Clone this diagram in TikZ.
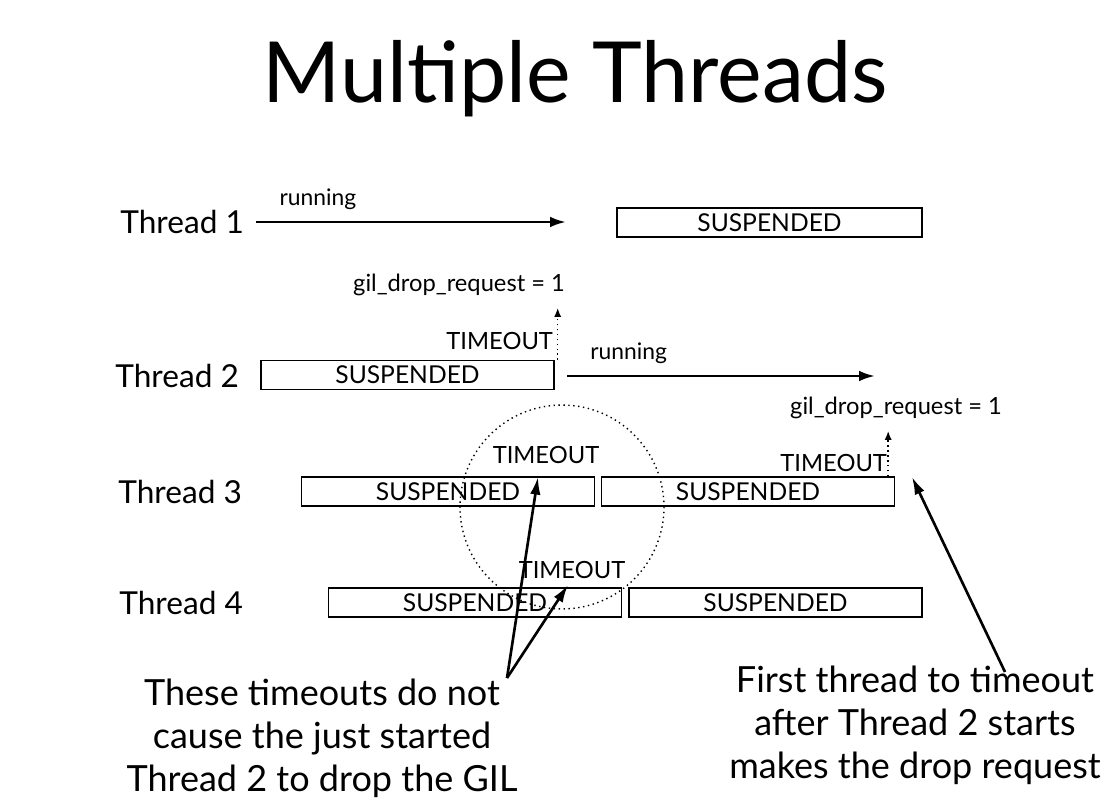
\documentclass[tikz,border=0pt]{standalone}
\usepackage{fontspec}
\setmainfont{Lato}
\usetikzlibrary{arrows.meta,positioning}
\tikzset{
  susp/.style={draw, line width=0.8pt, minimum width=5.86cm, minimum height=0.58cm,
    inner sep=0pt, font=\fontsize{14}{14}\selectfont},
  thr/.style={font=\fontsize{18}{18}\selectfont, anchor=east, inner sep=1pt},
  run/.style={font=\fontsize{13}{13}\selectfont},
  small/.style={font=\fontsize{13.5}{13.5}\selectfont, inner sep=1pt},
  note/.style={font=\fontsize{20.5}{24.5}\selectfont, align=center},
  flow/.style={line width=1.5pt, -{Latex[length=9pt,width=6pt]}},
  req/.style={dotted, line width=0.8pt, -{Latex[length=5pt,width=4pt]}},
  point/.style={line width=1.5pt, -{Latex[length=10pt,width=6pt]}}
}
\begin{document}
\begin{tikzpicture}[x=0.02cm, y=-0.02cm]
\useasboundingbox (0,0) rectangle (1106,810);
\node[font=\fontsize{48}{48}\selectfont] (title) at (575,79) {Multiple Threads};

% thread labels
\node[thr] (th1) at (246,222) {Thread 1};
\node[thr] (th2) at (241,376) {Thread 2};
\node[thr] (th3) at (244,492) {Thread 3};
\node[thr] (th4) at (245,603) {Thread 4};

% thread 1
\coordinate (r1) at (566,222);
\draw[flow] (th1.east) ++(10,0) coordinate (r1s) -- (r1) node[run, pos=0.2, above=3pt] (run1) {running};
\node[susp, minimum width=6.1cm] (s1) at (769.5,222.5) {SUSPENDED};
\node[small, anchor=east] (gil1) at (567,285) {gil\_drop\_request = 1};

% thread 2
\node[susp] (s2) at (407.5,375) {SUSPENDED};
\node[small, anchor=south east] (to2) at (555,352) {TIMEOUT};
\draw[req] (s2.north east) ++(3,0) coordinate (q2) -- ([yshift=-0.2cm]q2 |- gil1.south);
\coordinate (r2) at (875,376);
\draw[flow] (567,376) coordinate (r2s) -- (r2) node[run, pos=0.2, above=3pt] (run2) {running};
\node[small, anchor=east] (gil2) at (1004,408) {gil\_drop\_request = 1};

% thread 3
\node[susp] (s3a) at (448,491.5) {SUSPENDED};
\node[susp] (s3b) at (748,491.5) {SUSPENDED};
\node[small] (to3a) at (546,455) {TIMEOUT};
\node[small, anchor=south east] (to3b) at (889,474) {TIMEOUT};
\draw[req] (s3b.north east) ++(-7,0) coordinate (q3) -- ([yshift=-0.2cm]q3 |- gil2.south);

% thread 4
\node[susp] (s4a) at (475,602.5) {SUSPENDED};
\node[susp] (s4b) at (775.5,602.5) {SUSPENDED};
\node[small] (to4) at (572,570) {TIMEOUT};

\draw[dotted, line width=0.8pt] (562,507) circle[radius=2.04cm];

% notes
\node[note] (noteL) at (322,738) {These timeouts do not\\cause the just started\\Thread 2 to drop the GIL};
\node[note] (noteR) at (915,725) {First thread to timeout\\after Thread 2 starts\\makes the drop request};
\coordinate (pL) at (507,678);
\coordinate (pR) at (1005,672);
\draw[point] (pL) -- (538,477);
\draw[point] (pL) -- (568,585);
\draw[point] (pR) -- (912,477);
\end{tikzpicture}
\end{document}
